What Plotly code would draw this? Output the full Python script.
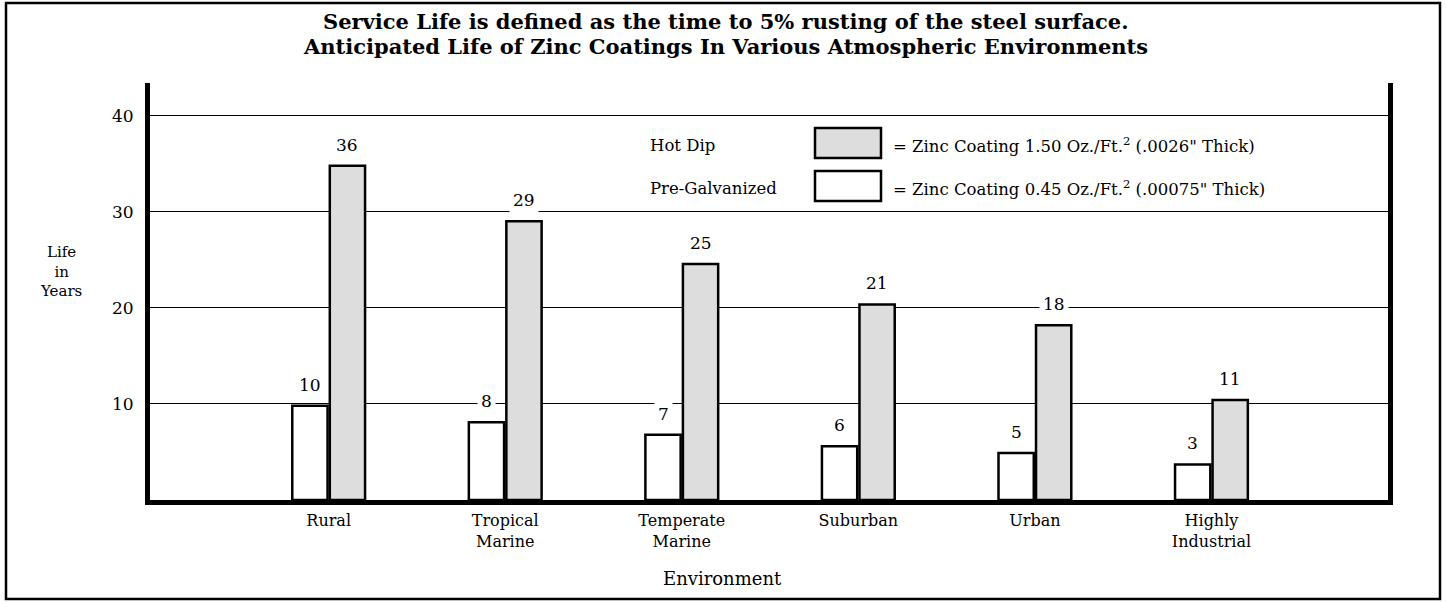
import plotly.graph_objects as go

# ---- data ----
categories = ["Rural", "Tropical<br>Marine", "Temperate<br>Marine", "Suburban", "Urban", "Highly<br>Industrial"]
pre_galv_heights = [9.8, 8.1, 6.8, 5.6, 4.9, 3.7]
hot_dip_heights = [34.8, 29.0, 24.55, 20.35, 18.2, 10.4]
pre_galv_labels = ["10", "8", "7", "6", "5", "3"]
hot_dip_labels = ["36", "29", "25", "21", "18", "11"]
y_ticks = [10, 20, 30, 40]

FONT = "DejaVu Serif"
W, H = 1446, 602
L, R, T, B = 150, 1388, 83, 500


def px(x):
    return (x - L) / (R - L)


def py(y):
    return (B - y) / (B - T)


bargap = 0.575
groupgap = 0.06
off = (1 - bargap) / 4
xpos = list(range(len(categories)))

fig = go.Figure()
fig.add_trace(go.Bar(
    x=xpos, y=pre_galv_heights, name="Pre-Galvanized",
    marker=dict(color="white", line=dict(color="black", width=2.5)),
    hoverinfo="skip",
))
fig.add_trace(go.Bar(
    x=xpos, y=hot_dip_heights, name="Hot Dip",
    marker=dict(color="#dddddd", line=dict(color="black", width=2.5)),
    hoverinfo="skip",
))

annotations = []
for i in xpos:
    annotations.append(dict(x=i - off, y=pre_galv_heights[i], xref="x", yref="y",
                            text=pre_galv_labels[i], showarrow=False, yshift=21,
                            xanchor="center", yanchor="middle",
                            bgcolor="white", borderpad=3,
                            font=dict(family=FONT, size=17, color="black")))
    annotations.append(dict(x=i + off, y=hot_dip_heights[i], xref="x", yref="y",
                            text=hot_dip_labels[i], showarrow=False, yshift=21,
                            xanchor="center", yanchor="middle",
                            bgcolor="white", borderpad=3,
                            font=dict(family=FONT, size=17, color="black")))


def note(x, y, text, size, xanchor="center", bold=False):
    if bold:
        text = "<b>" + text + "</b>"
    return dict(x=px(x), y=py(y), xref="paper", yref="paper", showarrow=False,
                xanchor=xanchor, yanchor="middle", text=text, align="center",
                font=dict(family=FONT, size=size, color="black"))


# titles
annotations.append(note(725, 21, "Service Life is defined as the time to 5% rusting of the steel surface.", 21, bold=True))
annotations.append(note(725, 46, "Anticipated Life of Zinc Coatings In Various Atmospheric Environments", 21, bold=True))
# y-axis title
annotations.append(note(61, 271, "Life<br>in<br>Years", 15))
# x-axis title
annotations.append(note(722, 578, "Environment", 18))
# legend texts
annotations.append(note(648, 145, "Hot Dip", 16.5, xanchor="left"))
annotations.append(note(648, 188, "Pre-Galvanized", 16.5, xanchor="left"))
annotations.append(note(891, 145, "= Zinc Coating 1.50 Oz./Ft.<sup>2</sup> (.0026\" Thick)", 16.5, xanchor="left"))
annotations.append(note(891, 188, "= Zinc Coating 0.45 Oz./Ft.<sup>2</sup> (.00075\" Thick)", 16.5, xanchor="left"))

shapes = [
    # outer border
    dict(type="rect", xref="paper", yref="paper", x0=px(6), x1=px(1440), y0=py(599), y1=py(3),
         line=dict(color="black", width=2.5), fillcolor="rgba(0,0,0,0)", layer="above"),
    # legend boxes
    dict(type="rect", xref="paper", yref="paper", x0=px(815), x1=px(881), y0=py(158), y1=py(128),
         line=dict(color="black", width=2.5), fillcolor="#dddddd"),
    dict(type="rect", xref="paper", yref="paper", x0=px(815), x1=px(881), y0=py(201), y1=py(171),
         line=dict(color="black", width=2.5), fillcolor="white"),
]

fig.update_layout(
    width=W, height=H,
    margin=dict(l=L, r=W - R, t=T, b=H - B, pad=0),
    paper_bgcolor="white", plot_bgcolor="white",
    barmode="group", bargap=bargap, bargroupgap=groupgap,
    showlegend=False,
    annotations=annotations, shapes=shapes,
    font=dict(family=FONT, color="black"),
)
fig.update_xaxes(
    type="linear", range=[-1.012, 6.0],
    tickvals=xpos, ticktext=categories,
    tickfont=dict(family=FONT, size=16, color="black"),
    showline=True, linecolor="black", linewidth=5, mirror=False,
    showgrid=False, zeroline=False, ticks="", ticklabelstandoff=2,
)
fig.update_yaxes(
    range=[0, 43.4], tickvals=y_ticks,
    tickfont=dict(family=FONT, size=17, color="black"),
    showline=True, linecolor="black", linewidth=5, mirror=True,
    showgrid=True, gridcolor="black", gridwidth=1, zeroline=False,
    ticks="", ticklabelstandoff=8,
)

fig.write_html(
    "out.html",
    config={"displayModeBar": False, "staticPlot": True},
    post_script="document.body.style.margin='0';document.body.style.padding='0';",
)
